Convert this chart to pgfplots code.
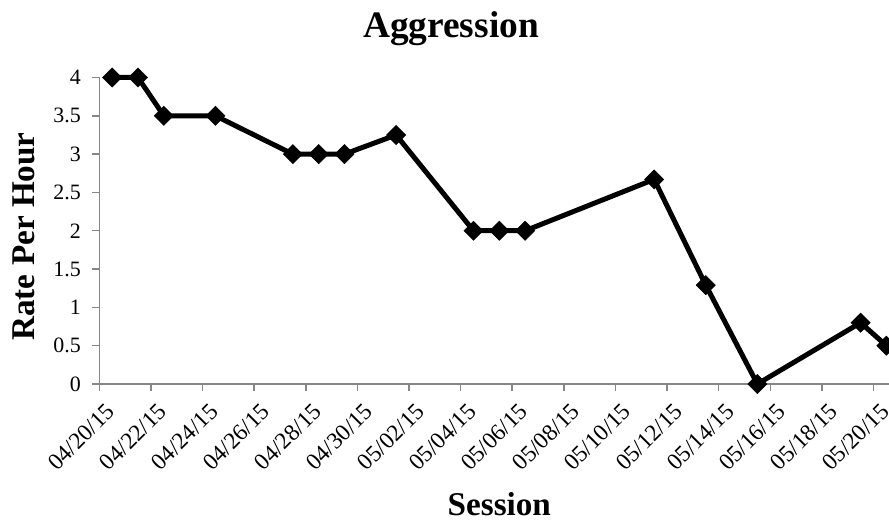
\documentclass[border=0pt]{standalone}
\usepackage{pgfplots}
\pgfplotsset{compat=1.18}
\usepackage{fontspec}
\setmainfont{Liberation Serif}
\definecolor{axgray}{RGB}{134,134,134}
\begin{document}
\begin{tikzpicture}
\begin{axis}[
  scale only axis,
  width=800bp, height=306.5bp,
  xmin=-0.5, xmax=30.5, ymin=0, ymax=4,
  axis x line=bottom, axis y line=left,
  axis line style={-, draw=axgray, line width=1.5bp},
  clip=false,
  tick align=outside,
  major tick length=7bp, minor tick length=7bp,
  ytick={0,0.5,...,4},
  yticklabels={0,0.5,1,1.5,2,2.5,3,3.5,4},
  xtick={0,2,...,30},
  xticklabels={04/20/15,04/22/15,04/24/15,04/26/15,04/28/15,04/30/15,05/02/15,05/04/15,05/06/15,05/08/15,05/10/15,05/12/15,05/14/15,05/16/15,05/18/15,05/20/15},
  minor xtick={-0.5,1.5,...,29.5},
  major x tick style={draw=none},
  minor x tick style={draw=axgray, line width=1.5bp},
  y tick style={draw=axgray, line width=1.5bp},
  xticklabel style={yshift=-14bp, xshift=1bp, rotate=45, anchor=east, font=\fontsize{23.5}{27}\selectfont},
  yticklabel style={font=\fontsize{22}{26}\selectfont, xshift=-8bp},
  title={Aggression},
  title style={at={(axis description cs:0.4396,1.112)}, anchor=base, yshift=0pt, font=\fontsize{37.5}{42}\selectfont\bfseries},
  xlabel={Session},
  xlabel style={at={(axis description cs:0.5,-0.43)}, anchor=base, font=\fontsize{33.3}{38}\selectfont\bfseries},
  ylabel={Rate Per Hour},
  ylabel style={at={(axis description cs:-0.0804,0.4812)}, anchor=base, font=\fontsize{33.3}{38}\selectfont\bfseries},
]
\coordinate (sw) at (rel axis cs:0,0);
\addplot[black, line width=5bp, mark=square*, mark size=6.8bp, mark options={rotate=45, solid, line width=0.5bp}] table {
x y
0 4
1 4
2 3.5
4 3.5
7 3
8 3
9 3
11 3.25
14 2
15 2
16 2
21 2.67
23 1.29
25 0
29 0.8
30 0.5
};
\end{axis}
\pgfresetboundingbox
\useasboundingbox ([shift={(-99.3bp,-137bp)}]sw) rectangle ([shift={(789.7bp,384bp)}]sw);
\end{tikzpicture}
\end{document}
